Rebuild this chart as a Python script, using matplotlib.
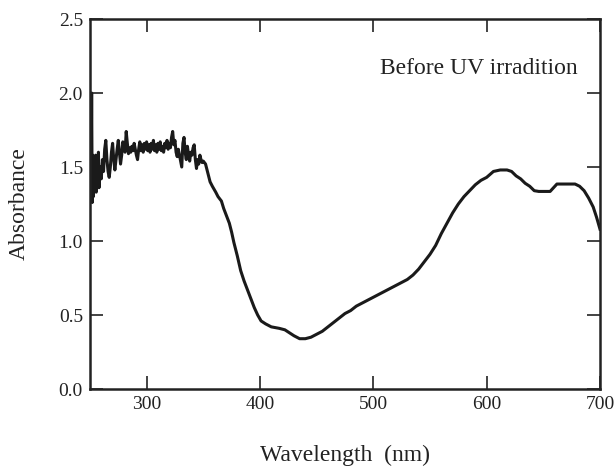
import matplotlib
matplotlib.use('Agg')
import matplotlib.pyplot as plt
import numpy as np

plt.rcParams['font.family'] = ['Liberation Serif', 'DejaVu Serif']

# noisy UV part, 250-350 nm
wl_uv = [250, 250.5, 251, 251.5, 252, 252.5, 253, 253.5, 254, 255, 255.5, 256, 257,
         257.5, 258, 259, 260, 261, 262, 263, 264, 265, 266, 267, 268, 269, 270,
         271, 272, 273, 274, 275, 276, 277, 278, 279, 280, 281, 282, 283, 284,
         285, 286, 287, 288, 289, 290, 291, 292, 293, 294, 295, 296, 297, 298,
         299, 300, 301, 302, 303, 304, 305, 306, 307, 308, 309, 310, 311, 312,
         313, 314, 315, 316, 317, 318, 319, 320, 321, 322, 323, 324, 325, 326,
         327, 328, 329, 330, 331, 332, 333, 334, 335, 336, 337, 338, 339, 340,
         341, 342, 343, 344, 345, 346, 347, 348, 349, 350]
abs_uv = [1.35, 1.55, 1.28, 2.00, 1.26, 1.58, 1.30, 1.52, 1.35, 1.58, 1.33, 1.55, 1.40,
          1.60, 1.36, 1.50, 1.42, 1.55, 1.47, 1.62, 1.68, 1.55, 1.47, 1.43, 1.50, 1.60, 1.66,
          1.55, 1.48, 1.55, 1.62, 1.68, 1.60, 1.52, 1.58, 1.67, 1.65, 1.60, 1.74, 1.66, 1.59,
          1.63, 1.60, 1.64, 1.61, 1.66, 1.62, 1.58, 1.55, 1.62, 1.67, 1.61, 1.65, 1.60, 1.66,
          1.62, 1.67, 1.61, 1.65, 1.60, 1.66, 1.62, 1.68, 1.61, 1.65, 1.60, 1.66, 1.62, 1.67,
          1.61, 1.64, 1.60, 1.66, 1.63, 1.68, 1.62, 1.66, 1.63, 1.70, 1.74, 1.65, 1.68, 1.60,
          1.57, 1.62, 1.58, 1.54, 1.50, 1.66, 1.70, 1.60, 1.55, 1.64, 1.58, 1.54, 1.60, 1.58,
          1.63, 1.65, 1.55, 1.49, 1.55, 1.52, 1.58, 1.55, 1.53, 1.54]

# smooth visible part, 352-700 nm
wl_vis = [352, 354, 356, 358, 361, 363, 366, 368, 371, 373, 375, 377, 380, 383, 386,
          389, 392, 395, 398, 401, 405, 410, 417, 422, 426, 430, 435, 440, 445, 450,
          455, 460, 465, 470, 475, 480, 485, 490, 495, 500, 505, 510, 515, 520, 525,
          530, 535, 540, 545, 550, 555, 560, 565, 570, 575, 580, 585, 590, 595, 600,
          603, 606, 612, 618, 622, 626, 630, 634, 638, 642, 646, 652, 656, 659, 662,
          670, 678, 682, 686, 690, 694, 697, 700]
abs_vis = [1.52, 1.46, 1.40, 1.37, 1.33, 1.30, 1.27, 1.22, 1.16, 1.12, 1.06, 0.99, 0.90, 0.80, 0.73,
           0.67, 0.61, 0.55, 0.50, 0.46, 0.44, 0.42, 0.41, 0.40, 0.38, 0.36, 0.34, 0.34, 0.35, 0.37,
           0.39, 0.42, 0.45, 0.48, 0.51, 0.53, 0.56, 0.58, 0.60, 0.62, 0.64, 0.66, 0.68, 0.70, 0.72,
           0.74, 0.77, 0.81, 0.86, 0.91, 0.97, 1.05, 1.12, 1.19, 1.25, 1.30, 1.34, 1.38, 1.41, 1.43,
           1.45, 1.47, 1.48, 1.48, 1.47, 1.44, 1.42, 1.39, 1.37, 1.34, 1.335, 1.335, 1.335, 1.36, 1.385,
           1.385, 1.385, 1.37, 1.34, 1.29, 1.23, 1.16, 1.08]

wavelength = np.array(wl_uv + wl_vis)
absorbance = np.array(abs_uv + abs_vis)

xticks = [300, 400, 500, 600, 700]
yticks = [0.0, 0.5, 1.0, 1.5, 2.0, 2.5]

fig = plt.figure(figsize=(6.16, 4.75), dpi=100)
ax = fig.add_axes([0.146, 0.181, 0.828, 0.779])
ax.plot(wavelength, absorbance, color='#1a1a1a', lw=2.2)

ax.set_xlim(250, 700)
ax.set_ylim(0, 2.5)
ax.set_xticks(xticks)
ax.set_yticks(yticks)
ax.set_yticklabels(['%.1f' % v for v in yticks])
ax.tick_params(direction='in', length=9.5, width=1.2, top=True, right=True,
               labelsize=14, pad=5, colors='#222222')
for s in ax.spines.values():
    s.set_linewidth(1.8)
    s.set_color('#222222')

ax.set_xlabel('Wavelength  (nm)', fontsize=17, color='#222222')
ax.xaxis.set_label_coords(0.5, -0.15)
ax.set_ylabel('Absorbance', fontsize=17, color='#222222')
ax.yaxis.set_label_coords(-0.118, 0.5)

ax.text(506, 2.13, 'Before UV irradition', fontsize=17, color='#222222',
        ha='left', va='baseline')

fig.savefig('out.png', dpi=100)
